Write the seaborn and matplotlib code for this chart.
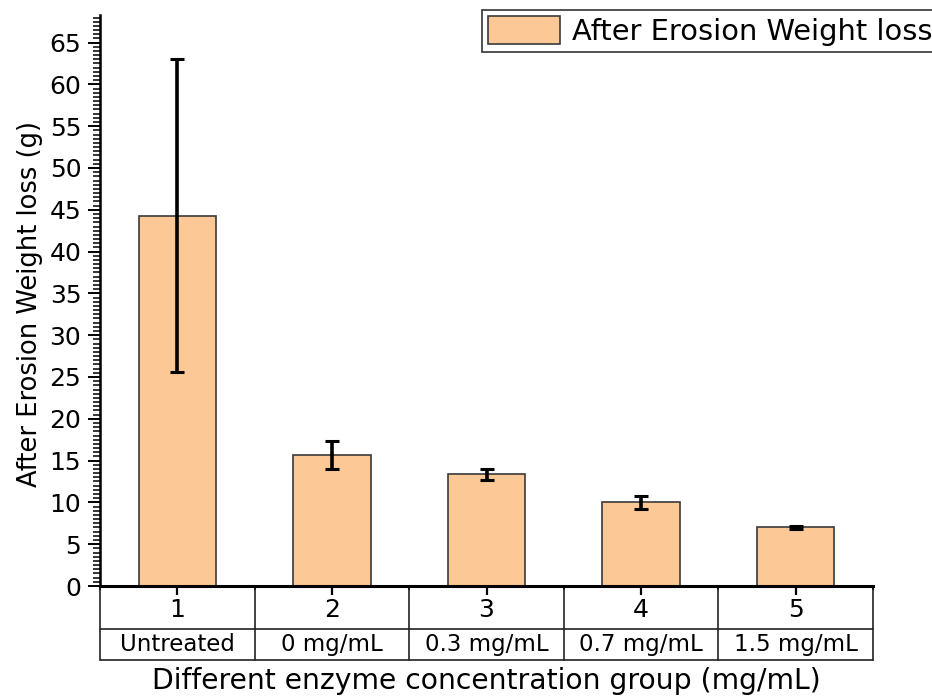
import matplotlib
matplotlib.use("Agg")
import matplotlib.pyplot as plt
import matplotlib.transforms as mtransforms
from matplotlib.ticker import MultipleLocator
import numpy as np
import pandas as pd
import seaborn as sns

# Group data
groups = ["1", "2", "3", "4", "5"]
group_labels = ["Untreated", "0 mg/mL", "0.3 mg/mL", "0.7 mg/mL", "1.5 mg/mL"]
weight_loss = [44.3, 15.7, 13.35, 10.0, 7.0]
weight_err = [18.75, 1.7, 0.65, 0.8, 0.2]

series_name = "After Erosion Weight loss"
bar_color = "#FBC896"

sns.set_theme(style="white")
plt.rcParams["font.family"] = ["DejaVu Sans"]
plt.rcParams["text.color"] = "black"
plt.rcParams["axes.labelcolor"] = "black"

fig = plt.figure(figsize=(9.32, 6.96), dpi=100)
ax = fig.add_axes([100 / 932, 1 - 586 / 696, 773 / 932, 571 / 696])

df = pd.DataFrame({"group": groups, "loss": weight_loss})
sns.barplot(data=df, x="group", y="loss", order=groups, color=bar_color,
            edgecolor="#3a3a3a", linewidth=1.2, width=0.5, saturation=1,
            errorbar=None, label=series_name, ax=ax)

xpos = np.arange(len(groups))
ax.errorbar(xpos, weight_loss, yerr=weight_err, fmt="none", ecolor="black",
            elinewidth=2.6, capsize=5, capthick=2.2, zorder=5)

# Axes limits and ticks
ax.set_xlim(-0.5, len(groups) - 0.5)
ax.set_ylim(0, 68.3)
ax.yaxis.set_major_locator(MultipleLocator(5))
ax.yaxis.set_minor_locator(MultipleLocator(0.5))
ax.set_xticks(xpos)
ax.set_xticks(np.arange(len(groups) + 1) - 0.5, minor=True)
ax.set_xticklabels([])

ax.tick_params(axis="y", which="major", direction="out", length=8.5, width=1.4,
               labelsize=18, pad=5, left=True, colors="black")
ax.tick_params(axis="y", which="minor", direction="out", length=5, width=1.1,
               left=True, colors="black")
ax.tick_params(axis="x", which="major", direction="out", length=6.5, width=1.6,
               bottom=True, colors="black")
ax.tick_params(axis="x", which="minor", direction="out", length=3, width=1.4,
               bottom=True, colors="black")

for side in ("top", "right"):
    ax.spines[side].set_visible(False)
ax.spines["left"].set_linewidth(1.8)
ax.spines["bottom"].set_linewidth(2.2)
for side in ("left", "bottom"):
    ax.spines[side].set_color("black")

# Category table under the x axis
trans = mtransforms.blended_transform_factory(ax.transData, ax.transAxes)
row1 = -43 / 571
row2 = -74 / 571
edges = np.arange(len(groups) + 1) - 0.5
line_kw = dict(color="#222222", linewidth=1.2, transform=trans, clip_on=False)
for e in edges:
    ax.plot([e, e], [0, row2], **line_kw)
for r in (row1, row2):
    ax.plot([edges[0], edges[-1]], [r, r], **line_kw)
for i, (g, lab) in enumerate(zip(groups, group_labels)):
    ax.text(i, row1 / 2 - 0.004, g, transform=trans, ha="center", va="center",
            fontsize=18, color="black")
    ax.text(i, (row1 + row2) / 2, lab, transform=trans, ha="center",
            va="center", fontsize=16.5, color="black")

ax.set_xlabel("Different enzyme concentration group (mg/mL)", fontsize=20.3,
              color="black", va="center")
ax.xaxis.set_label_coords(0.5, -95 / 571)
ax.set_ylabel("After Erosion Weight loss (g)", fontsize=18.5, color="black",
              va="center")
ax.yaxis.set_label_coords(-70 / 773, 0.494)

leg = ax.legend(loc="upper left", bbox_to_anchor=(482 / 932, 1 - 10.5 / 696),
                bbox_transform=fig.transFigure, borderaxespad=0,
                fontsize=20.8, frameon=True, fancybox=False, borderpad=0.2,
                handlelength=2.5, handleheight=1.1, handletextpad=0.4,
                labelcolor="black")
leg.get_frame().set_edgecolor("black")
leg.get_frame().set_linewidth(1.2)

fig.savefig("out.png", dpi=100)
